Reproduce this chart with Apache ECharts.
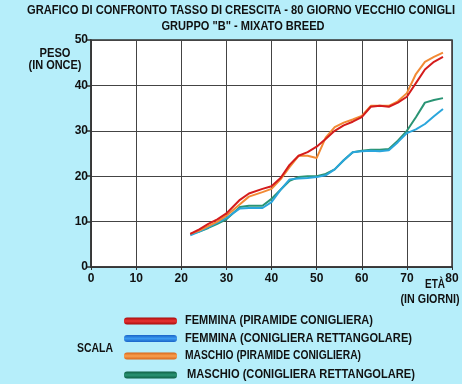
<!DOCTYPE html>
<html><head><meta charset="utf-8">
<script src="https://cdn.jsdelivr.net/npm/echarts@6/dist/echarts.min.js"></script>
<style>html,body{margin:0;padding:0;background:#b6eefa}#c{width:462px;height:384px}</style>
</head><body><div id="c"></div>
<script>
const days = [22,24,26,28,30,33,35,38,40,42,44,46,48,50,52,54,56,58,60,62,64,66,68,70,72,74,76,78];
const femminaPiramide =    [7.3,8.3,9.5,10.5,11.8,14.8,16.2,17.2,17.8,19.6,22.5,24.5,25.3,26.5,28.2,30.0,31.2,32.0,33.0,35.3,35.5,35.3,36.2,37.5,40.5,43.5,45.2,46.3];
const femminaRettangolare =[7.0,7.8,8.8,9.8,10.8,12.9,13.0,13.0,14.3,17.0,19.3,19.5,19.6,19.8,20.2,21.5,23.5,25.3,25.5,25.6,25.5,25.7,27.5,29.5,30.3,31.5,33.2,34.8];
const maschioPiramide =    [7.3,8.0,9.0,10.0,11.3,13.8,15.5,16.5,17.2,19.3,22.0,24.5,24.5,24.0,28.5,30.8,31.8,32.5,33.3,35.5,35.5,35.5,36.5,38.3,42.5,45.2,46.3,47.2];
const maschioRettangolare =[7.2,7.8,8.6,9.5,10.5,13.2,13.5,13.5,15.0,17.0,19.0,19.8,20.0,20.0,20.5,21.5,23.5,25.3,25.6,25.8,25.8,26.0,27.8,30.0,33.0,36.2,36.8,37.2];
const seriesNames = ['FEMMINA (PIRAMIDE CONIGLIERA)','FEMMINA (CONIGLIERA RETTANGOLARE)','MASCHIO (PIRAMIDE CONIGLIERA)','MASCHIO (CONIGLIERA RETTANGOLARE)'];
const titleLines = ['GRAFICO DI CONFRONTO TASSO DI CRESCITA - 80 GIORNO VECCHIO CONIGLI','GRUPPO "B" - MIXATO BREED'];
const xTicks = [0,10,20,30,40,50,60,70,80];
const yTicks = [0,10,20,30,40,50];

const FAM = '"Liberation Sans", Arial, sans-serif';
const lineColors = ['#d41c1c','#2aa6dc','#f28a34','#2a9474'];
const legendColors = [['#a80c0c','#e83232'],['#1a64c8','#3a9af0'],['#d8661a','#f8a050'],['#0e5e44','#2a9474']];
const allData = [femminaPiramide, femminaRettangolare, maschioPiramide, maschioRettangolare];

const mctx = document.createElement('canvas').getContext('2d');
function measure(t, size){ mctx.font = 'bold ' + size + 'px "Liberation Sans", Arial, sans-serif'; return mctx.measureText(t).width; }
function txt(t, x, y, width, size, align){
  const w = measure(t, size);
  return {type:'text', x:x, y:y, scaleX: width / w, scaleY:1, z:100,
    style:{text:t, fontFamily:FAM, fontWeight:'bold', fontSize:size, fill:'#111', align:align||'left', verticalAlign:'middle'}};
}

const graphics = [
  txt(titleLines[0], 241, 11, 428, 12, 'center'),
  txt(titleLines[1], 243, 27, 163, 12, 'center'),
  txt('PESO', 55, 54, 31, 12, 'center'),
  txt('(IN ONCE)', 55, 66, 53, 12, 'center'),
  txt('ETÀ', 435, 285, 20, 12, 'center'),
  txt('(IN GIORNI)', 430, 300, 59, 12, 'center'),
  txt('SCALA', 77, 349, 36, 12, 'left')
];
const legY = [321, 338.5, 356, 375];
const legTextX = [185, 185, 185, 187];
const legTextW = [188, 227, 176, 228];
seriesNames.forEach((n,i)=>{
  graphics.push({type:'rect', shape:{x:124, y:legY[i]-3.5, width:53, height:7, r:3}, z:100,
    style:{fill:new echarts.graphic.LinearGradient(0,0,0,1,[
      {offset:0,color:legendColors[i][0]},{offset:0.5,color:legendColors[i][1]},{offset:1,color:legendColors[i][0]}])}});
  graphics.push(txt(n, legTextX[i], legY[i], legTextW[i], 12, 'left'));
});

const chart = echarts.init(document.getElementById('c'), null, {renderer:'canvas'});
chart.setOption({
  backgroundColor:'#b6eefa',
  animation:false,
  grid:{left:91,right:10,top:40,bottom:117,show:true,backgroundColor:'#ffffff',borderColor:'#333',borderWidth:1.5},
  xAxis:{type:'value',min:0,max:80,interval:10,
    axisLine:{show:true,lineStyle:{color:'#333',width:1.5}},
    axisTick:{show:true,length:3,lineStyle:{color:'#333'}},
    axisLabel:{fontFamily:FAM,fontWeight:'bold',fontSize:12,color:'#111',margin:6,
      formatter:v=>xTicks.includes(v)?String(v):''},
    splitLine:{show:true,lineStyle:{color:'#444',width:1}}},
  yAxis:{type:'value',min:0,max:50,interval:10,
    axisLine:{show:true,lineStyle:{color:'#333',width:1.5}},
    axisTick:{show:true,length:4,lineStyle:{color:'#333',width:1.5}},
    axisLabel:{fontFamily:FAM,fontWeight:'bold',fontSize:12,color:'#111',margin:3,
      formatter:v=>yTicks.includes(v)?String(v):''},
    splitLine:{show:true,lineStyle:{color:'#444',width:1.2}}},
  graphic:graphics,
  series:allData.map((d,i)=>({
    name:seriesNames[i],type:'line',showSymbol:false,symbol:'none',
    data:days.map((x,j)=>[x,d[j]]),
    lineStyle:{color:lineColors[i],width:2},
    itemStyle:{color:lineColors[i]},
    z:[4,2,3,1][i]
  }))
});
</script></body></html>
